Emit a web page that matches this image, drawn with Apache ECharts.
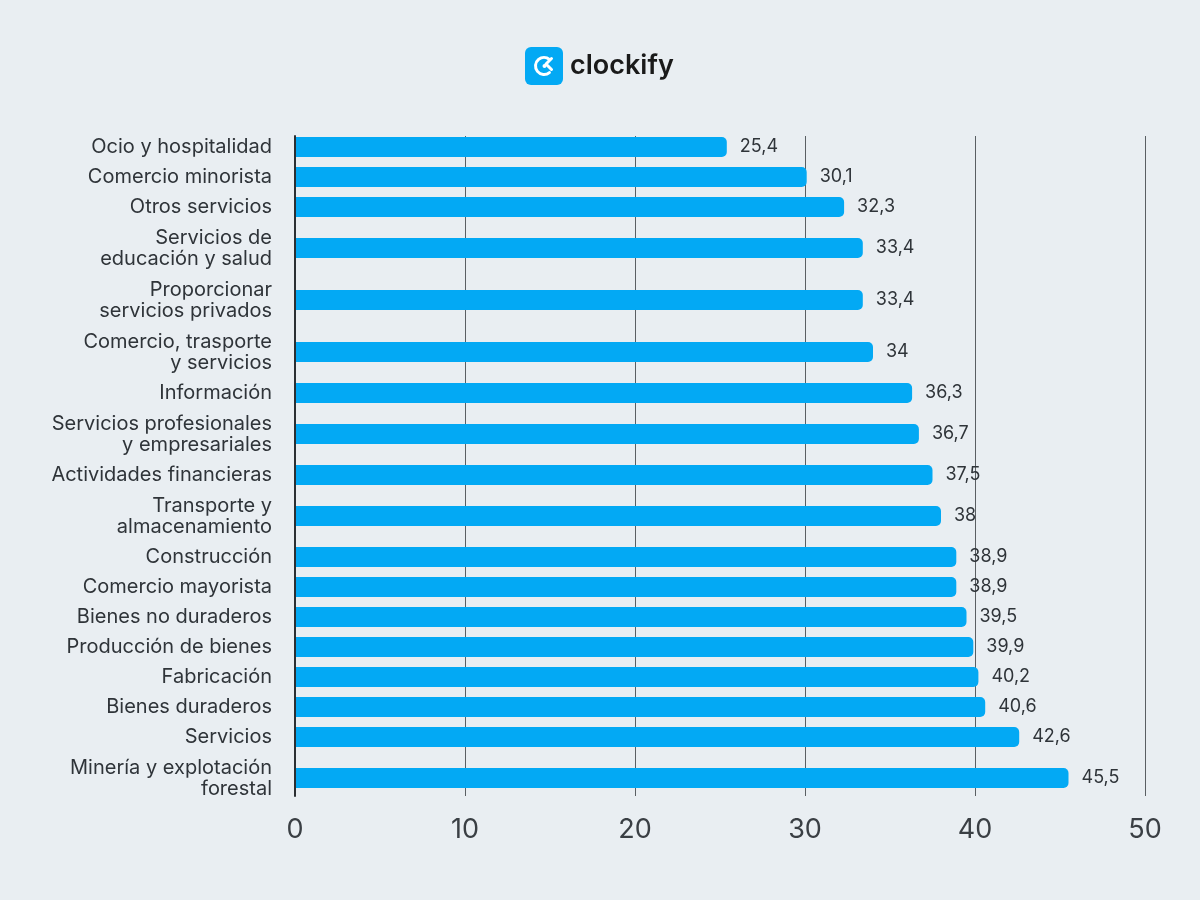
<!DOCTYPE html>
<html><head><meta charset="utf-8">
<script src="https://cdn.jsdelivr.net/npm/echarts@6/dist/echarts.min.js"></script>
<style>html,body{margin:0;padding:0;background:#e9eef2}#c{width:1200px;height:900px}</style>
</head><body><div id="c"></div>
<script>
const categories = [
  "Ocio y hospitalidad",
  "Comercio minorista",
  "Otros servicios",
  "Servicios de\neducación y salud",
  "Proporcionar\nservicios privados",
  "Comercio, trasporte\ny servicios",
  "Información",
  "Servicios profesionales\ny empresariales",
  "Actividades financieras",
  "Transporte y\nalmacenamiento",
  "Construcción",
  "Comercio mayorista",
  "Bienes no duraderos",
  "Producción de bienes",
  "Fabricación",
  "Bienes duraderos",
  "Servicios",
  "Minería y explotación\nforestal"
];
const values = [25.4, 30.1, 32.3, 33.4, 33.4, 34, 36.3, 36.7, 37.5, 38, 38.9, 38.9, 39.5, 39.9, 40.2, 40.6, 42.6, 45.5];
const xTicks = [0, 10, 20, 30, 40, 50];

// Row layout: each row is as tall as its label (one or two text lines),
// like the reference table-style layout.
const ROW_HALF = { 1: 15, 2: 26 };
const PAD_TOP = 11, PAD_BOTTOM = 18;
const rowPos = [];
let acc = PAD_TOP;
categories.forEach((c, i) => {
  const h = ROW_HALF[c.split('\n').length];
  if (i > 0) acc += ROW_HALF[categories[i - 1].split('\n').length] + h;
  rowPos.push(acc);
});
const yMax = acc + PAD_BOTTOM;

const FONT = 'Inter, Roboto, sans-serif';
const chart = echarts.init(document.getElementById('c'));
chart.setOption({
  backgroundColor: '#e9eef2',
  textStyle: { fontFamily: FONT },
  grid: { left: 295, right: 55, top: 136, bottom: 104, containLabel: false },
  xAxis: {
    type: 'value', min: xTicks[0], max: xTicks[xTicks.length - 1], interval: 10,
    axisLine: { show: false }, axisTick: { show: false },
    splitLine: { show: true, lineStyle: { color: '#5a5f63', width: 1 } },
    axisLabel: { fontSize: 27, color: '#3a3f44', margin: 20, fontFamily: FONT }
  },
  yAxis: {
    type: 'value', inverse: true, min: 0, max: yMax,
    axisLine: { show: true, onZero: false, lineStyle: { color: '#2b2f33', width: 2 } },
    axisTick: { show: false }, axisLabel: { show: false }, splitLine: { show: false }
  },
  series: [{
    type: 'custom',
    silent: true,
    data: values.map((v, i) => [v, rowPos[i]]),
    encode: { x: 0, y: 1 },
    renderItem: function (params, api) {
      const v = api.value(0), p = api.value(1);
      const s = api.coord([0, p]);
      const e = api.coord([v, p]);
      return {
        type: 'group',
        children: [
          { type: 'rect', shape: { x: s[0] + 1, y: s[1] - 10, width: e[0] - s[0] - 1, height: 20, r: [0, 5, 5, 0] },
            style: { fill: '#03a9f4' } },
          { type: 'text', x: e[0] + 13, y: e[1],
            style: { text: String(v).replace('.', ','), fontSize: 18, fill: '#2f3439', fontFamily: FONT,
                     align: 'left', verticalAlign: 'middle' } },
          { type: 'text', x: s[0] - 23, y: s[1],
            style: { text: categories[params.dataIndex], fontSize: 20, lineHeight: 21, fill: '#2f3439', fontFamily: FONT,
                     align: 'right', verticalAlign: 'middle' } }
        ]
      };
    },
    z: 3
  }],
  graphic: [
    { type: 'rect', shape: { x: 525, y: 47, width: 38, height: 38, r: 6 }, style: { fill: '#03a9f4' } },
    { type: 'arc', shape: { cx: 544, cy: 66, r: 8.5, startAngle: Math.PI * 0.28, endAngle: Math.PI * 1.72, clockwise: true },
      style: { stroke: '#ffffff', lineWidth: 3, fill: null, lineCap: 'round' } },
    { type: 'polyline', shape: { points: [[551.5, 58.5], [546, 64], [551.5, 69.5]] },
      style: { stroke: '#ffffff', lineWidth: 3, fill: null, lineCap: 'round', lineJoin: 'round' } },
    { type: 'circle', shape: { cx: 544.5, cy: 66, r: 2 }, style: { fill: '#ffffff' } },
    { type: 'text', x: 570, y: 66, style: { text: 'clockify', fontSize: 27, fontWeight: 600, fill: '#1a1a1a', fontFamily: FONT, verticalAlign: 'middle' } }
  ]
});
</script></body></html>
